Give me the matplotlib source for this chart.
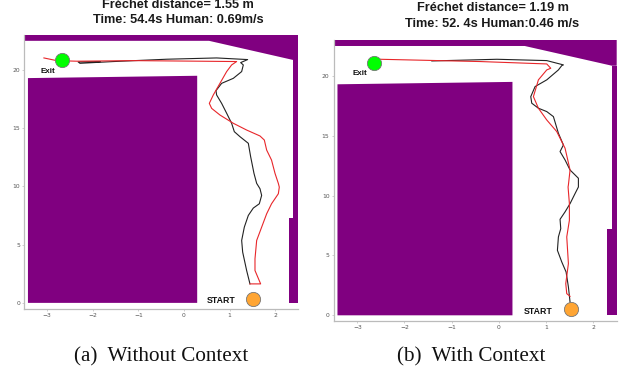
import matplotlib
matplotlib.use("Agg")
import matplotlib.pyplot as plt
from matplotlib.patches import Polygon

W, H = 627, 374
purple = "#800080"

xticks = [-3, -2, -1, 0, 1, 2]
yticks = [0, 5, 10, 15, 20]

top_wall_x = [-3.5, 0.55, 2.4, 2.5, 2.5, -3.5]
top_wall_y = [22.5, 22.5, 20.85, 20.85, 23, 23]
right_wall_x = [2.4, 2.5, 2.5, 2.3, 2.3, 2.4]
right_wall_y = [20.85, 20.85, 0, 0, 7.25, 7.25]
block_x = [-3.42, 0.29, 0.29, -3.42]
block_y = [0, 0, 19.5, 19.3]

a_black_x = [1.447,1.374,1.287,1.265,1.323,1.411,1.520,1.652,1.703,1.667,1.594,1.535,1.462,1.411,1.228,1.104,1.045,0.936,0.826,0.716,0.702,0.826,1.082,1.265,1.301,1.243,1.396,0.716,-0.38,-1.55,-2.28,-2.32,-1.84]
a_black_y = [1.63,2.78,4.36,5.36,6.50,7.51,8.14,8.51,9.23,9.80,10.26,11.12,12.55,13.70,14.27,14.70,15.42,16.28,17.13,17.85,18.22,18.85,19.28,19.86,20.43,20.63,20.89,21.03,20.92,20.72,20.57,20.69,20.72]
a_red_x = [1.447,1.681,1.557,1.557,1.594,1.703,1.813,1.92,2.069,2.09,2.069,1.996,1.92,1.813,1.762,1.667,1.374,1.082,0.789,0.607,0.556,0.643,0.789,0.936,1.045,1.155,0.351,-1.11,-2.35,-2.79,-3.07]
a_red_y = [1.63,1.63,2.78,3.78,5.36,6.5,7.65,8.51,9.37,9.94,10.26,11.12,12.26,13.12,13.98,14.33,14.84,15.42,16.13,16.7,17.13,17.85,18.85,19.86,20.43,20.72,20.75,20.8,20.75,20.8,21.03]

b_black_x = [1.511,1.476,1.427,1.335,1.243,1.264,1.314,1.299,1.405,1.511,1.617,1.688,1.688,1.511,1.405,1.299,1.37,1.264,1.158,1.017,0.84,0.699,0.678,0.77,1.017,1.264,1.335,1.37,1.017,-0.04,-1.42]
b_black_y = [1.11,2.37,3.62,4.46,5.43,6.55,7.24,8.02,8.64,9.33,10.17,10.72,11.45,12.14,12.98,13.68,14.23,15.21,16.6,17.02,17.3,17.72,18.27,19.11,19.67,20.5,20.86,20.92,21.28,21.39,21.25]
b_red_x = [1.511,1.441,1.42,1.476,1.441,1.497,1.497,1.469,1.476,1.511,1.405,1.229,1.017,0.84,0.734,0.84,1.017,1.102,1.017,-0.395,-2.514]
b_red_y = [1.59,1.81,2.65,4.32,6.55,7.94,9.33,10.72,10.89,12.14,13.96,15.35,16.32,17.3,18.27,19.67,20.5,20.64,21.0,21.2,21.39]

panels = [
    dict(box=(24.3, 35, 298, 308.7), bx=a_black_x, by=a_black_y, rx=a_red_x, ry=a_red_y,
         exit_pt=(-2.68, 20.86), start_pt=(1.506, 0.315), exit_lab=(-3.14, 19.9), start_lab=(0.51, 0.2),
         t1="Fréchet distance= 1.55 m", t2="Time: 54.4s Human: 0.69m/s", tx=178, ty1=5, ty2=20,
         cap="(a)  Without Context", capx=161.5),
    dict(box=(333.7, 40, 616.7, 321.3), bx=b_black_x, by=b_black_y, rx=b_red_x, ry=b_red_y,
         exit_pt=(-2.64, 21.06), start_pt=(1.525, 0.5), exit_lab=(-3.1, 20.17), start_lab=(0.537, 0.36),
         t1="Fréchet distance= 1.19 m", t2="Time: 52. 4s Human:0.46 m/s", tx=492.5, ty1=8.3, ty2=24.3,
         cap="(b)  With Context", capx=471),
]

fig = plt.figure(figsize=(W / 100, H / 100), dpi=100)

for p in panels:
    l, t, r, b = p["box"]
    ax = fig.add_axes([l / W, 1 - b / H, (r - l) / W, (b - t) / H])
    ax.set_xlim(-3.5, 2.5)
    ax.set_ylim(-0.5, 23)
    for wx, wy in [(top_wall_x, top_wall_y), (right_wall_x, right_wall_y), (block_x, block_y)]:
        ax.add_patch(Polygon(list(zip(wx, wy)), closed=True, fc=purple, ec="none", zorder=1))
    ax.plot(p["bx"], p["by"], color="#222222", lw=0.8, zorder=2)
    ax.plot(p["rx"], p["ry"], color="#e8262a", lw=0.8, zorder=3)
    ax.scatter(*p["exit_pt"], s=105, c="#00ff00", edgecolors="#777777", linewidths=0.6, zorder=4)
    ax.scatter(*p["start_pt"], s=105, c="#ffa533", edgecolors="#777777", linewidths=0.6, zorder=4)
    ax.text(*p["exit_lab"], "Exit", fontsize=5.8, fontweight="bold", family="Liberation Sans",
            color="#111111", va="center", ha="left", zorder=5)
    ax.text(*p["start_lab"], "START", fontsize=6.3, fontweight="bold", family="Liberation Sans",
            color="#111111", va="center", ha="left", zorder=5)
    ax.set_xticks(xticks)
    ax.set_yticks(yticks)
    ax.set_xticklabels([str(v).replace("-", "\u2212") for v in xticks])
    ax.tick_params(labelsize=4.3, colors="#555555", length=1.5, width=0.4, pad=1.5, color="#aaaaaa")
    for s in ("top", "right"):
        ax.spines[s].set_visible(False)
    for s in ("left", "bottom"):
        ax.spines[s].set_color("#bbbbbb")
        ax.spines[s].set_linewidth(0.9)
    fig.text(p["tx"] / W, 1 - p["ty1"] / H, p["t1"], fontsize=9.2, fontweight="bold", family="Liberation Sans",
             color="#1a1a1a", ha="center", va="center")
    fig.text(p["tx"] / W, 1 - p["ty2"] / H, p["t2"], fontsize=9.2, fontweight="bold", family="Liberation Sans",
             color="#1a1a1a", ha="center", va="center")
    fig.text(p["capx"] / W, 1 - 357 / H, p["cap"], fontsize=15.2, family="Liberation Serif",
             color="#111111", ha="center", va="center")

fig.savefig("out.png", dpi=100)
